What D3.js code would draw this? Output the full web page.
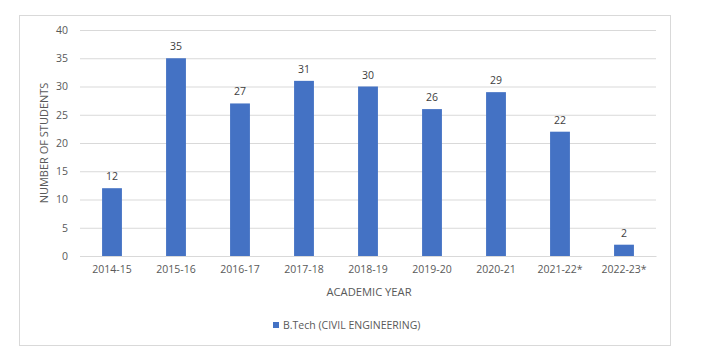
<!DOCTYPE html>
<html>
<head>
<meta charset="utf-8">
<script src="https://cdn.jsdelivr.net/npm/d3@7"></script>
<style>
  body { margin: 0; background: #fff; }
  text { font-family: "Open Sans", "Liberation Sans", sans-serif; fill: #595959; }
</style>
</head>
<body>
<div id="chart"></div>
<script>
const years = ["2014-15", "2015-16", "2016-17", "2017-18", "2018-19", "2019-20", "2020-21", "2021-22*", "2022-23*"];
const students = [12, 35, 27, 31, 30, 26, 29, 22, 2];
const yTicks = [0, 5, 10, 15, 20, 25, 30, 35, 40];
const seriesName = "B.Tech (CIVIL ENGINEERING)";

const width = 702, height = 362;
const margin = { left: 80, right: 46, top: 30, bottom: 106 };
const barColor = "#4472C4";
const fs = 10.5;

const svg = d3.select("#chart").append("svg")
  .attr("width", width)
  .attr("height", height);

// outer frame
svg.append("rect")
  .attr("x", 19.5).attr("y", 15.5)
  .attr("width", 651).attr("height", 330)
  .attr("fill", "#fff")
  .attr("stroke", "#d9d9d9");

const x = d3.scaleBand()
  .domain(years)
  .range([margin.left, width - margin.right])
  .paddingInner(0.69)
  .paddingOuter(0.345);

const y = d3.scaleLinear()
  .domain([0, 40])
  .range([height - margin.bottom, margin.top]);

// grid + y labels
const yAxis = svg.append("g")
  .attr("transform", `translate(${margin.left},0)`)
  .call(d3.axisLeft(y).tickValues(yTicks).tickSize(-(width - margin.left - margin.right)).tickPadding(12));
yAxis.select(".domain").remove();
yAxis.selectAll(".tick line").attr("stroke", "#d9d9d9");
yAxis.selectAll(".tick text").attr("font-size", fs).style("fill", "#595959");

// bars
svg.selectAll(".bar")
  .data(students)
  .enter().append("rect")
  .attr("class", "bar")
  .attr("x", (d, i) => x(years[i]))
  .attr("y", d => y(d))
  .attr("width", x.bandwidth())
  .attr("height", d => y(0) - y(d))
  .attr("fill", barColor);

// value labels
svg.selectAll(".val")
  .data(students)
  .enter().append("text")
  .attr("x", (d, i) => x(years[i]) + x.bandwidth() / 2)
  .attr("y", d => y(d) - 8)
  .attr("text-anchor", "middle")
  .attr("font-size", fs)
  .style("fill", "#404040")
  .text(d => d);

// x axis
const xAxis = svg.append("g")
  .attr("transform", `translate(0,${y(0)})`)
  .call(d3.axisBottom(x).tickSize(0).tickPadding(10));
xAxis.select(".domain").attr("stroke", "#d9d9d9");
xAxis.selectAll(".tick text").attr("font-size", fs).style("fill", "#595959");

// axis titles
svg.append("text")
  .attr("x", (margin.left + width - margin.right) / 2 + 1)
  .attr("y", 296)
  .attr("text-anchor", "middle")
  .attr("font-size", 11.2)
  .text("ACADEMIC YEAR");

svg.append("text")
  .attr("transform", `translate(48,${(y(0) + y(40)) / 2}) rotate(-90)`)
  .attr("text-anchor", "middle")
  .attr("font-size", 11)
  .text("NUMBER OF STUDENTS");

// legend
const legend = svg.append("g").attr("transform", "translate(273,325)");
legend.append("rect")
  .attr("x", 0).attr("y", -3)
  .attr("width", 6).attr("height", 6)
  .attr("fill", barColor);
legend.append("text")
  .attr("x", 10).attr("y", 4)
  .attr("font-size", fs)
  .text(seriesName);
</script>
</body>
</html>
